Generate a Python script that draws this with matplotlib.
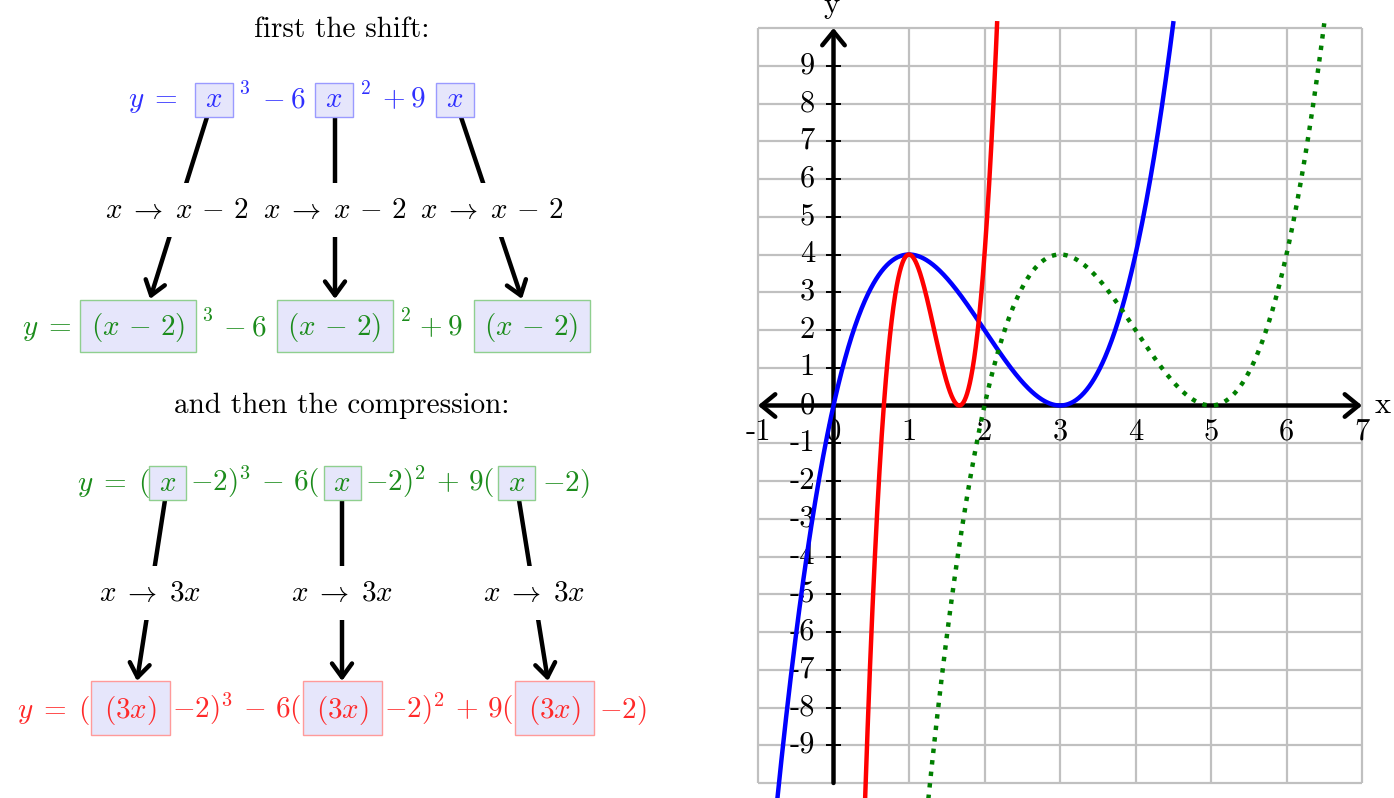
import numpy as np
import matplotlib.pyplot as plt
from matplotlib.patches import Rectangle

plt.rcParams['mathtext.fontset'] = 'cm'

# data: y = x^3 - 6x^2 + 9x, then shifted by 2, then compressed by 3
coeffs = [1, -6, 9, 0]
shift = 2
compress = 3
blue_domain = [-0.75, 4.5]
green_domain = [blue_domain[0] + shift, blue_domain[1] + shift]
red_domain = [(blue_domain[0] + shift) / compress, (blue_domain[1] + shift) / compress]

x_ticks = list(range(-1, 8))
y_ticks = list(range(-10, 11))
y_labels = [v for v in range(-9, 10) if v != 0]

title_shift = 'first the shift:'
title_comp = 'and then the compression:'
label_shift = r'$x \;\rightarrow\; x \,-\, 2$'
label_comp = r'$x \;\rightarrow\; 3x$'

BLUE_T = '#3030ff'
GREEN_T = '#1c8c1c'
RED_T = '#ff2a2a'
FILL = '#e6e6fb'

fig = plt.figure(figsize=(13.94, 7.98), dpi=100)

# ---------------- left: the diagram (pixel coordinates) ----------------
axl = fig.add_axes([0, 0, 700 / 1394, 1])
axl.set_xlim(0, 700)
axl.set_ylim(798, 0)
axl.axis('off')

fs = 21


def box(cx, cy, w, h, txt, ec, tc, base):
    axl.add_patch(Rectangle((cx - w / 2, cy - h / 2), w, h, fc=FILL, ec=ec, lw=1.0, zorder=4))
    axl.text(cx, base, txt, ha='center', va='baseline', fontsize=fs, color=tc, zorder=5)


def txt(cx, base, s, c, size=fs):
    axl.text(cx, base, s, ha='center', va='baseline', fontsize=size, color=c, zorder=5)


def arrow(p0, p1):
    axl.annotate('', xy=p1, xytext=p0,
                 arrowprops=dict(arrowstyle='->,head_length=0.55,head_width=0.4', lw=3.2, color='k',
                                 shrinkA=0, shrinkB=0, mutation_scale=18), zorder=2)


def label(cx, cy, s):
    axl.text(cx, cy, s, ha='center', va='center', fontsize=fs, color='k', zorder=3,
             bbox=dict(boxstyle='square,pad=0.45', fc='white', ec='none'))


axl.text(342, 30, title_shift, ha='center', va='center', fontsize=21, family='cmr10', color='k')
axl.text(342, 406, title_comp, ha='center', va='center', fontsize=21, family='cmr10', color='k')

# row 1 (blue)
b1 = 107
txt(153, b1, r'$y \;=$', BLUE_T)
for cx in [214, 334, 455]:
    box(cx, 100, 38, 34, r'$x$', '#9a9aff', BLUE_T, b1)
txt(244, 94, r'$3$', BLUE_T, 14)
txt(284, b1, r'$-\:6$', BLUE_T)
txt(365, 94, r'$2$', BLUE_T, 14)
txt(404, b1, r'$+\:9$', BLUE_T)

# arrows row 1 -> row 3
for p0, p1 in [((207, 117), (150, 299)), ((335, 117), (335, 299)), ((461, 117), (522, 299))]:
    arrow(p0, p1)
for cx in [177, 335, 492]:
    label(cx, 210, label_shift)

# row 3 (green)
b3 = 335
txt(47, b3, r'$y \;=$', GREEN_T)
for cx in [138, 334.5, 531.5]:
    box(cx, 326, 116, 52, r'$(x \,-\, 2)$', '#8fcf8f', GREEN_T, b3)
txt(207, 321, r'$3$', GREEN_T, 14)
txt(245, b3, r'$-\:6$', GREEN_T)
txt(405, 321, r'$2$', GREEN_T, 14)
txt(441, b3, r'$+\:9$', GREEN_T)

# row 4 (green)
b4 = 491
txt(114, b4, r'$y \;=\; ($', GREEN_T)
for cx in [167.5, 342, 516.5]:
    box(cx, 483, 37, 34, r'$x$', '#8fcf8f', GREEN_T, b4)
txt(255, b4, r'$-2)^3 \,-\, 6($', GREEN_T)
txt(429.5, b4, r'$-2)^2 \,+\, 9($', GREEN_T)
txt(565.5, b4, r'$-2)$', GREEN_T)

# arrows row 4 -> row 6
for p0, p1 in [((165, 500), (137, 681)), ((342, 500), (342, 681)), ((519, 500), (548, 681))]:
    arrow(p0, p1)
for cx in [150, 342, 534]:
    label(cx, 593, label_comp)

# row 6 (red)
b6 = 718
txt(54, b6, r'$y \;=\; ($', RED_T)
for cx in [130.5, 342.5, 554.5]:
    box(cx, 708, 79, 54, r'$(3x)$', '#ff9a9a', RED_T, b6)
txt(236.5, b6, r'$-2)^3 \,-\, 6($', RED_T)
txt(448.5, b6, r'$-2)^2 \,+\, 9($', RED_T)
txt(622.5, b6, r'$-2)$', RED_T)

# ---------------- right: the graph ----------------
ax = fig.add_axes([740 / 1394, 0, 654 / 1394, 1])
ax.set_xlim((740 - 833.5) / 75.5, (1394 - 833.5) / 75.5)
ax.set_ylim(-(798 - 405.5) / 37.75, 405.5 / 37.75)
ax.axis('off')

ax.vlines(x_ticks, y_ticks[0], y_ticks[-1], color='#c0c0c0', lw=1.6, zorder=1)
ax.hlines(y_ticks, x_ticks[0], x_ticks[-1], color='#c0c0c0', lw=1.6, zorder=1)

for v in y_labels:
    ax.text(-0.245, v, str(v), ha='right', va='center', family='cmr10', fontsize=22, zorder=2)
ax.text(-0.245, 0, '0', ha='right', va='center', family='cmr10', fontsize=22, zorder=2)
for v in x_ticks:
    ax.text(v, -0.7, str(v), ha='center', va='center', family='cmr10', fontsize=22, zorder=2)
ax.hlines([v for v in y_ticks[1:-1] if v != 0], -0.1, 0.1, color='k', lw=1.4, zorder=3)

ax.annotate('', xy=(x_ticks[-1], 0), xytext=(x_ticks[0], 0),
            arrowprops=dict(arrowstyle='<->,head_length=0.55,head_width=0.45', lw=3.2, color='k',
                            shrinkA=0, shrinkB=0, mutation_scale=18), zorder=4)
ax.annotate('', xy=(0, y_ticks[-1]), xytext=(0, y_ticks[0]),
            arrowprops=dict(arrowstyle='->,head_length=0.55,head_width=0.45', lw=3.2, color='k',
                            shrinkA=0, shrinkB=0, mutation_scale=18), zorder=4)
ax.text(7.17, 0, 'x', ha='left', va='center', family='cmr10', fontsize=22)
ax.text(-0.03, 10.4, 'y', ha='center', va='baseline', family='cmr10', fontsize=22)

f = np.poly1d(coeffs)
xb = np.linspace(blue_domain[0], blue_domain[1], 600)
xr = np.linspace(red_domain[0], red_domain[1], 600)
xg = np.linspace(green_domain[0], green_domain[1], 600)
ax.plot(xb, f(xb), color='#0000ff', lw=3.2, zorder=5)
ax.plot(xr, f(compress * xr - shift), color='#ff0000', lw=3.2, zorder=5)
ax.plot(xg, f(xg - shift), color='#007f00', lw=3.2, ls=(0, (1, 1.6)), zorder=5)

fig.savefig('out.png', dpi=100)
